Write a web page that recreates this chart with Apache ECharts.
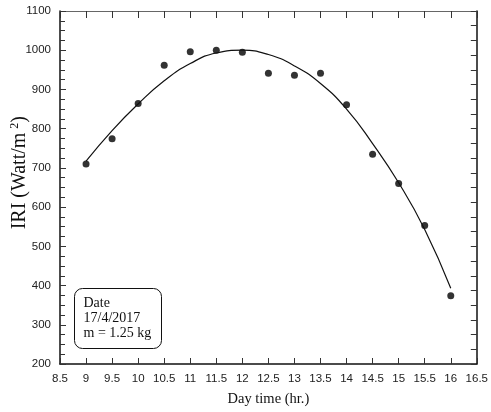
<!DOCTYPE html>
<html>
<head>
<meta charset="UTF-8">
<title>IRI vs day time</title>
<script src="https://cdn.jsdelivr.net/npm/echarts@6/dist/echarts.min.js"></script>
<style>
  html, body { margin: 0; padding: 0; background: #fff; }
  #chart { width: 491px; height: 412px; }
</style>
</head>
<body>
<div id="chart"></div>
<script>
// measured points (hour, IRI)
var hours = [9, 9.5, 10, 10.5, 11, 11.5, 12, 12.5, 13, 13.5, 14, 14.5, 15, 15.5, 16];
var iri = [710, 774, 864, 962, 996, 1000, 995, 941, 936, 941, 861, 735, 660, 553, 374];
// fitted curve at the same hours
var fitIri = [717, 795, 863, 922, 966, 993, 1000, 989, 960, 915, 850, 762, 662, 543, 393];

var noteLines = ['Date', '17/4/2017', 'm = 1.25 kg'];

var tickFont = "'Liberation Sans Narrow', 'Arial Narrow', 'Liberation Sans', sans-serif";
var serif = "'Liberation Serif', 'Times New Roman', serif";

function pairs(xs, ys) {
  var out = [];
  for (var i = 0; i < xs.length; i++) out.push([xs[i], ys[i]]);
  return out;
}

var chart = echarts.init(document.getElementById('chart'));

var option = {
  animation: false,
  backgroundColor: '#fff',
  grid: { left: 60, right: 12, top: 11, bottom: 44 },
  xAxis: [{
    type: 'value', position: 'bottom', min: 8.5, max: 16.5, interval: 0.5,
    axisLine: { lineStyle: { color: '#111', width: 1.5 } },
    axisTick: { inside: true, length: 6, lineStyle: { color: '#333' } },
    axisLabel: { color: '#222', fontSize: 11.5, fontFamily: tickFont, margin: 9 },
    splitLine: { show: false },
    name: 'Day time (hr.)', nameLocation: 'middle', nameGap: 28,
    nameTextStyle: { color: '#111', fontSize: 14.5, fontFamily: serif }
  }, {
    type: 'value', position: 'top', min: 8.5, max: 16.5, interval: 0.5,
    axisLine: { lineStyle: { color: '#666', width: 1 } },
    axisTick: { inside: true, length: 7, lineStyle: { color: '#333' } },
    axisLabel: { show: false },
    splitLine: { show: false }
  }],
  yAxis: [{
    type: 'value', position: 'left', min: 200, max: 1100, interval: 100,
    axisLine: { show: true, lineStyle: { color: '#111', width: 1.5 } },
    axisTick: { show: true, inside: true, length: 6, lineStyle: { color: '#333' } },
    minorTick: { show: true, splitNumber: 4, length: 5, lineStyle: { color: '#333' } },
    axisLabel: {
      color: '#222', fontSize: 11.5, fontFamily: tickFont, margin: 9,
      formatter: function (v) { return String(v); }
    },
    splitLine: { show: false }
  }, {
    type: 'value', position: 'right', min: 0, max: 24, interval: 1,
    axisLine: { show: true, lineStyle: { color: '#111', width: 1.5 } },
    axisTick: { show: true, inside: true, length: 6, lineStyle: { color: '#333' } },
    axisLabel: { show: false },
    splitLine: { show: false }
  }],
  graphic: [{
    type: 'text', left: 9, top: 116, rotation: Math.PI / 2,
    style: {
      text: 'IRI (Watt/m{sup|2})',
      fill: '#111', font: '20px ' + serif,
      rich: { sup: { fontSize: 12, verticalAlign: 'top', padding: [0, 0, 9, 4], fontFamily: serif } }
    }
  }, {
    type: 'group', left: 74, top: 288,
    children: [{
      type: 'rect', shape: { x: 0, y: 0, width: 87, height: 60, r: 8 },
      style: { fill: '#fff', stroke: '#111', lineWidth: 1 }
    }, {
      type: 'text', x: 9, y: 7,
      style: { text: noteLines.join('\n'), fill: '#111', font: '14px ' + serif, lineHeight: 15 }
    }]
  }],
  series: [{
    type: 'line', xAxisIndex: 0, yAxisIndex: 0,
    data: pairs(hours, fitIri),
    smooth: true, showSymbol: false,
    lineStyle: { color: '#111', width: 1.2 }
  }, {
    type: 'scatter', xAxisIndex: 0, yAxisIndex: 0,
    data: pairs(hours, iri),
    symbol: 'circle', symbolSize: 7,
    itemStyle: { color: '#000' }
  }]
};

chart.setOption(option);
</script>
</body>
</html>
